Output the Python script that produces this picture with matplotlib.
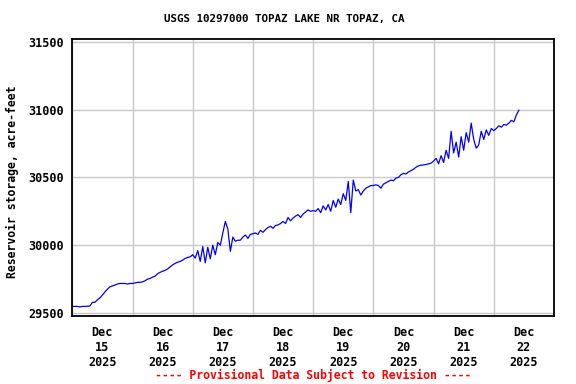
import numpy as np
import matplotlib
matplotlib.use("Agg")
import matplotlib.pyplot as plt
import matplotlib.dates as mdates
from datetime import datetime, timedelta

# hourly reservoir storage (acre-feet), starting Dec 15 2025 00:00
storage = [
    # Dec 15
    29549, 29549, 29549, 29545, 29549, 29549, 29550, 29552,
    29578, 29580, 29597, 29612, 29632, 29656, 29676, 29693,
    29700, 29706, 29715, 29718, 29718, 29718, 29714, 29718,
    # Dec 16
    29718, 29722, 29726, 29726, 29730, 29738, 29750, 29755,
    29765, 29772, 29790, 29800, 29808, 29815, 29825, 29841,
    29855, 29866, 29875, 29880, 29890, 29903, 29910, 29915,
    # Dec 17
    29930, 29905, 29960, 29880, 29990, 29870, 29985, 29900,
    30000, 29930, 30020, 30000, 30090, 30175, 30120, 29955,
    30060, 30030, 30037, 30037, 30060, 30075, 30050, 30080,
    # Dec 18
    30085, 30090, 30080, 30110, 30095, 30115, 30130, 30140,
    30125, 30145, 30150, 30160, 30175, 30160, 30205, 30180,
    30200, 30215, 30225, 30205, 30230, 30245, 30260, 30250,
    # Dec 19
    30255, 30250, 30270, 30240, 30290, 30260, 30300, 30250,
    30330, 30280, 30340, 30300, 30380, 30330, 30470, 30240,
    30480, 30400, 30410, 30370, 30400, 30420, 30430, 30440,
    # Dec 20
    30440, 30445, 30440, 30420, 30450, 30460, 30470, 30480,
    30475, 30495, 30500, 30520, 30530, 30525, 30540, 30550,
    30560, 30575, 30585, 30590, 30592, 30595, 30600, 30605,
    # Dec 21
    30620, 30640, 30600, 30660, 30610, 30700, 30640, 30840,
    30680, 30760, 30650, 30800, 30700, 30830, 30760, 30900,
    30780, 30715, 30740, 30840, 30780, 30850, 30810, 30860,
    # Dec 22
    30845, 30860, 30880, 30870, 30890, 30885, 30900, 30920,
    30910, 30960, 30995,
]

start = datetime(2025, 12, 15)
times = [start + timedelta(hours=i) for i in range(len(storage))]

title = "USGS 10297000 TOPAZ LAKE NR TOPAZ, CA"
ylabel = "Reservoir storage, acre-feet"
footer = "---- Provisional Data Subject to Revision ----"
yticks = [29500, 30000, 30500, 31000, 31500]

mono = "DejaVu Sans Mono"

fig = plt.figure(figsize=(5.76, 3.84), dpi=100)
ax = fig.add_axes([0.1255, 0.177, 0.8363, 0.7207])

ax.plot(times, storage, color="#0000ff", linewidth=0.9)

ax.set_xlim(datetime(2025, 12, 15), datetime(2025, 12, 23))
ax.set_ylim(29478, 31518)

ax.xaxis.set_major_locator(mdates.DayLocator())
ax.xaxis.set_major_formatter(plt.NullFormatter())
ax.xaxis.set_minor_locator(mdates.HourLocator(byhour=[12]))
ax.xaxis.set_minor_formatter(mdates.DateFormatter("%b\n%d\n%Y"))
ax.set_yticks(yticks)
ax.set_yticklabels([str(v) for v in yticks])

ax.tick_params(which="both", length=0)
ax.tick_params(axis="x", which="minor", pad=7)
ax.tick_params(axis="y", pad=6)
for lab in ax.get_xticklabels(minor=True) + ax.get_yticklabels():
    lab.set_fontfamily(mono)
    lab.set_fontweight("bold")
    lab.set_fontsize(8.5)
    lab.set_linespacing(1.2)

ax.grid(True, which="major", color="#c8c8c8", linewidth=1)
ax.set_axisbelow(True)
for s in ax.spines.values():
    s.set_linewidth(1.3)

fig.text(0.494, 0.950, title, ha="center", va="center", fontfamily=mono,
         fontweight="bold", fontsize=7.8)
fig.text(0.022, 0.526, ylabel, rotation=90, ha="center", va="center",
         fontfamily=mono, fontweight="bold", fontsize=8.3)
fig.text(0.543, 0.023, footer, ha="center", va="center", color="red",
         fontfamily=mono, fontweight="bold", fontsize=8.3)

fig.savefig("out.png", dpi=100)
